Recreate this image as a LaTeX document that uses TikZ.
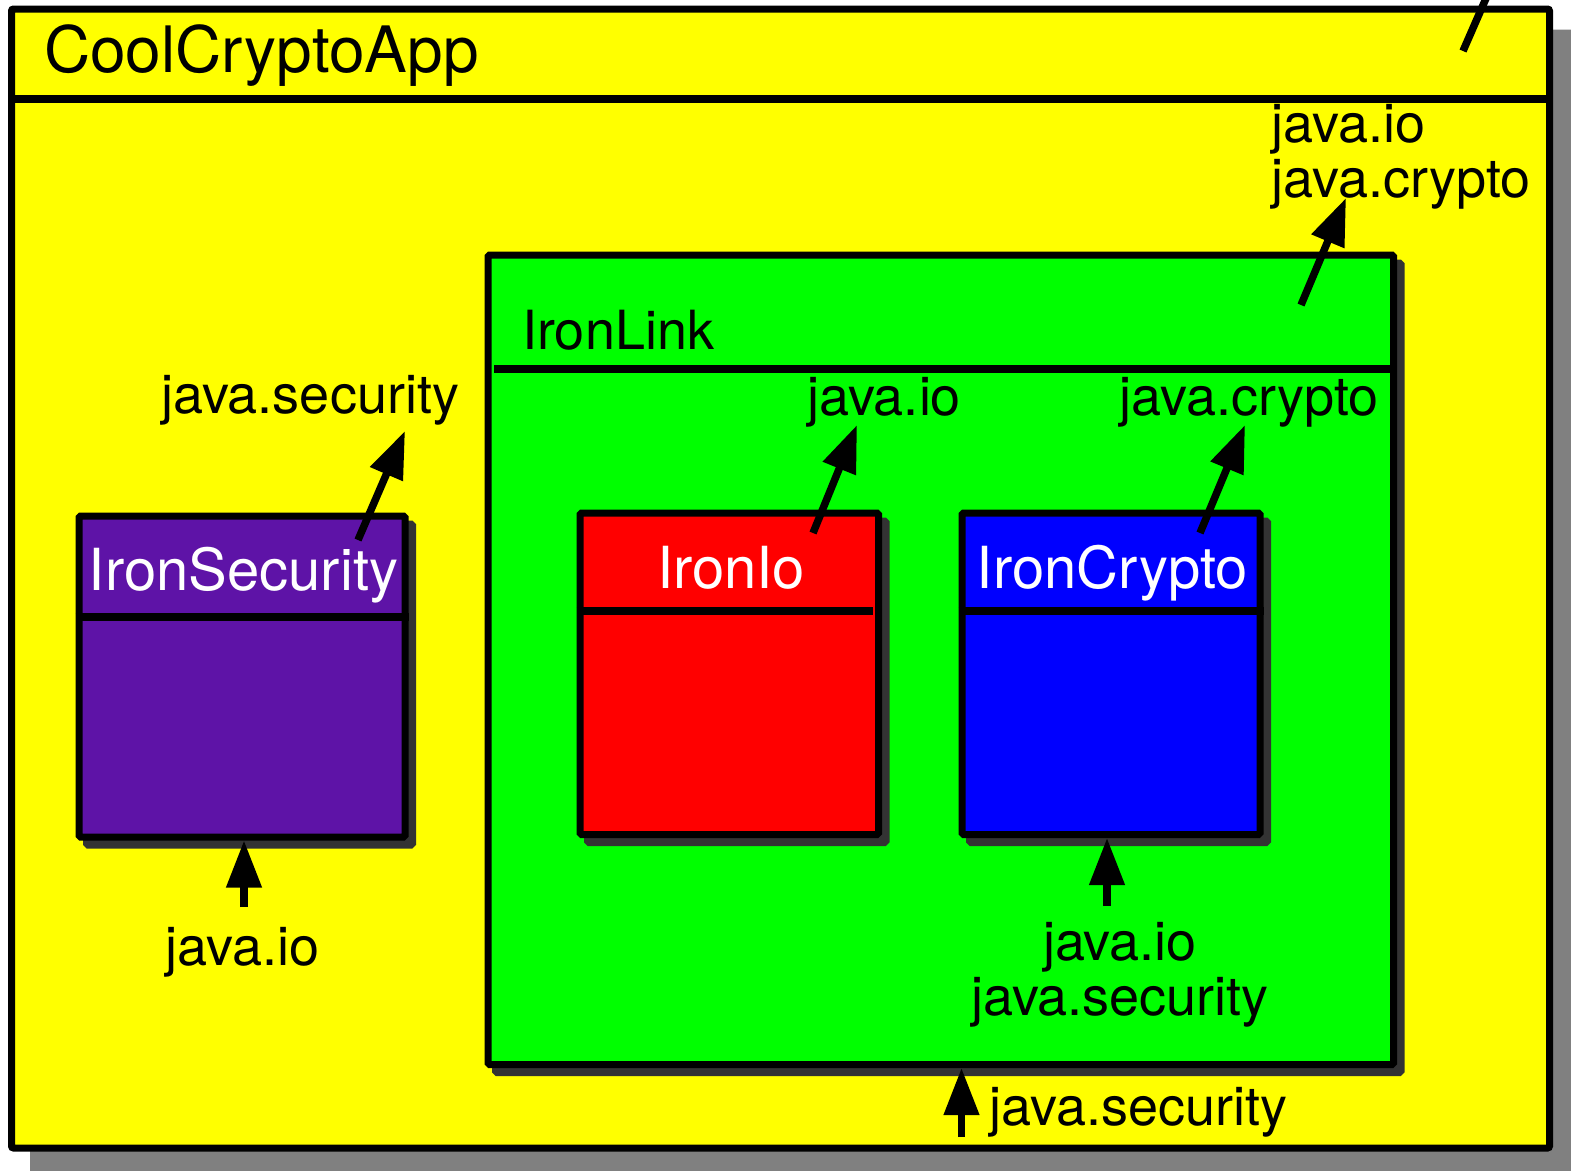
\documentclass[tikz,border=0pt]{standalone}
\usepackage{fontspec}
\setmainfont{TeX Gyre Heros}
\usetikzlibrary{arrows.meta,shadows}

\definecolor{appyellow}{RGB}{255,255,0}
\definecolor{linkgreen}{RGB}{0,255,0}
\definecolor{iored}{RGB}{255,0,0}
\definecolor{cryptoblue}{RGB}{0,0,255}
\definecolor{secpurple}{RGB}{94,19,167}
\definecolor{boxshade}{RGB}{51,51,51}
\definecolor{appshade}{RGB}{128,128,128}

\tikzset{
  pkg/.style={rectangle, draw=black, line width=7pt, inner sep=0pt,
    rounded corners=1.5pt,
    drop shadow={shadow xshift=7.5pt, shadow yshift=-8pt, opacity=1,
      fill=boxshade, draw=boxshade, line width=7pt}},
  apppkg/.style={rectangle, draw=black, line width=7pt, inner sep=0pt,
    rounded corners=2pt,
    drop shadow={shadow xshift=22pt, shadow yshift=-24pt, opacity=1,
      fill=appshade, draw=appshade, line width=7pt}},
  hdr/.style={line width=7.5pt},
  lbl/.style={inner sep=0pt, font=\fontsize{54}{55}\selectfont},
  pkgtitle/.style={inner sep=0pt, text=white, font=\fontsize{58}{60}\selectfont},
  dep/.style={line width=7.5pt, -{Triangle[length=47pt,width=34pt]}},
}

\begin{document}
\begin{tikzpicture}[x=1pt,y=-1pt]
\useasboundingbox (0,0) rectangle (1571,1170);
\clip (0,0) rectangle (1571,1170);
\fill[white] (0,0) rectangle (1571,1170);

% outer application package
\node[apppkg, fill=appyellow, minimum width=1538pt, minimum height=1139pt] (app) at (780.5,578.5) {};
\draw[hdr] (app.west |- 0,99) -- (app.east |- 0,99);
\node[inner sep=0pt, anchor=base west, font=\fontsize{64}{66}\selectfont] (app-title) at (44,72) {CoolCryptoApp};

% IronLink package
\node[pkg, fill=linkgreen, minimum width=905.5pt, minimum height=809.5pt] (link) at (940.75,659.75) {};
\draw[hdr] (494,369) -- (link.east |- 0,369);
\node[lbl, anchor=base west] (link-title) at (522,349) {IronLink};

% IronSecurity package
\node[pkg, fill=secpurple, minimum width=326pt, minimum height=321pt] (sec) at (242,676.5) {};
\draw[hdr] (sec.west |- 0,617) -- (sec.east |- 0,617);
\node[pkgtitle, anchor=base] (sec-title) at (243.5,590) {IronSecurity};

% IronIo package
\node[pkg, fill=iored, minimum width=298.5pt, minimum height=321.5pt] (io) at (729.25,673.75) {};
\draw[hdr] (io.west |- 0,611) -- (872.5,611);
\node[pkgtitle, anchor=base] (io-title) at (731,588) {IronIo};

% IronCrypto package
\node[pkg, fill=cryptoblue, minimum width=298pt, minimum height=321.5pt] (crypto) at (1111,673.75) {};
\draw[hdr] (crypto.west |- 0,611) -- (crypto.east |- 0,611);
\node[pkgtitle, anchor=base] (crypto-title) at (1112.5,588) {IronCrypto};

% dependency labels
\node[lbl, anchor=base] (sec-req) at (310,413.5) {java.security};
\node[lbl, anchor=base] (sec-prov) at (242.5,965) {java.io};
\node[lbl, anchor=base] (io-req) at (884,415) {java.io};
\node[lbl, anchor=base] (crypto-req) at (1249,415) {java.crypto};
\node[lbl, anchor=north, align=center] (crypto-prov) at (1120,922) {java.io\\java.security};
\node[lbl, anchor=base west] (link-prov) at (989,1125) {java.security};
\node[lbl, anchor=north west, align=left] (link-req) at (1271,104) {java.io\\java.crypto};

% connector ends
\coordinate (sec-out) at (358,540);
\coordinate (sec-tip) at (405,431);
\coordinate (io-out) at (813,533);
\coordinate (io-tip) at (857,425);
\coordinate (crypto-out) at (1200,533);
\coordinate (crypto-tip) at (1245,425);
\coordinate (link-out) at (1301,305);
\coordinate (link-tip) at (1346,198);
\coordinate (sec-in) at (244,907);
\coordinate (crypto-in) at (1107,906);
\coordinate (link-in) at (961.5,1137);
\coordinate (app-out) at (1463,51);
\coordinate (app-far) at (1494,-20);

% required packages
\draw[dep] (sec-out) -- (sec-tip);
\draw[dep] (io-out) -- (io-tip);
\draw[dep] (crypto-out) -- (crypto-tip);
\draw[dep] (link-out) -- (link-tip);
\draw[line width=7.5pt] (app-out) -- (app-far);

% provided packages
\draw[dep] (sec-in) -- (sec-in |- sec.south);
\draw[dep] (crypto-in) -- (crypto-in |- crypto.south);
\draw[dep] (link-in) -- (link-in |- link.south);
\end{tikzpicture}
\end{document}
